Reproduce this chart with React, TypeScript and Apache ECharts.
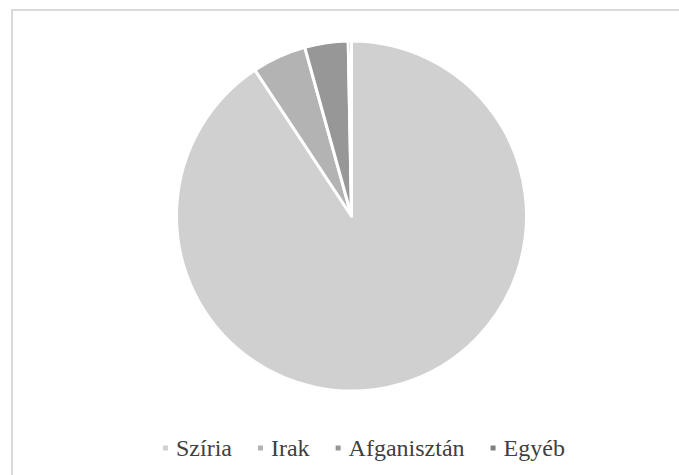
import React, { useEffect, useRef } from "react";
import * as echarts from "echarts";

const categories = ["Szíria", "Irak", "Afganisztán", "Egyéb"];
const values = [90.7, 5.0, 4.0, 0.3];
const colors = ["#d0d0d0", "#b3b3b3", "#979797", "#7f7f7f"];

export default function App() {
  const ref = useRef<HTMLDivElement>(null);
  useEffect(() => {
    if (!ref.current) return;
    const chart = echarts.init(ref.current, undefined, { renderer: "svg" });
    chart.setOption({
      animation: false,
      backgroundColor: "#ffffff",
      color: colors,
      textStyle: { fontFamily: "Times New Roman" },
      graphic: [
        {
          type: "rect",
          shape: { x: 12, y: 10, width: 720, height: 520 },
          style: { fill: "none", stroke: "#d9d9d9", lineWidth: 2 },
          silent: true,
        },
      ],
      legend: {
        data: categories,
        left: 156,
        top: 431,
        orient: "horizontal",
        icon: "rect",
        itemWidth: 7,
        itemHeight: 7,
        itemGap: 24,
        textStyle: {
          fontFamily: "Times New Roman",
          fontSize: 24,
          color: "#404040",
          padding: [0, 0, 0, 2],
        },
      },
      series: [
        {
          type: "pie",
          center: [351.5, 216],
          radius: [0, 175],
          startAngle: 90,
          clockwise: true,
          label: { show: false },
          labelLine: { show: false },
          itemStyle: { borderColor: "#ffffff", borderWidth: 3 },
          emphasis: { disabled: true },
          data: categories.map((name, i) => ({ name, value: values[i] })),
        },
      ],
    });
    return () => chart.dispose();
  }, []);
  return (
    <div
      ref={ref}
      style={{ position: "absolute", left: 0, top: 0, width: 679, height: 475 }}
    />
  );
}
